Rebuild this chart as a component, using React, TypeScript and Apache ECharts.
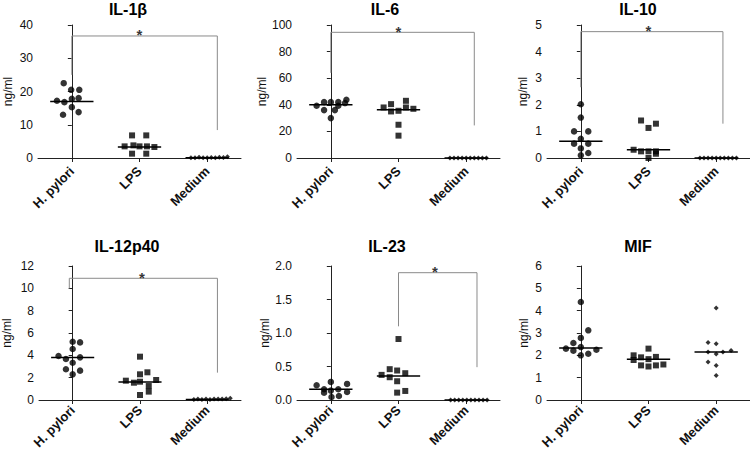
import React, { useEffect, useRef } from "react";
import * as echarts from "echarts";

const groups = ["H. pylori", "LPS", "Medium"];
const groupPositions = [0, 1, 2];
const panelTitles = ["IL-1β", "IL-6", "IL-10", "IL-12p40", "IL-23", "MIF"];
const yMax = [40, 100, 5, 12, 2, 6];
const yInterval = [10, 20, 1, 2, 0.5, 1];
const yDecimals = [0, 0, 0, 0, 1, 0];

// each point: [jitter offset from the group's centre, ng/ml]
const il1bHp = [[-0.12, 22.5], [-0.01, 20.5], [0.11, 20.5], [-0.22, 17.2], [-0.11, 16.8], [0, 17.8], [0.1, 18.0], [0, 15.3], [-0.13, 13.0], [0.1, 13.8]];
const il1bLps = [[-0.11, 6.8], [0.1, 6.8], [-0.22, 3.5], [-0.09, 3.8], [0, 3.5], [0.11, 3.5], [0.22, 3.3], [-0.11, 1.3], [0.1, 1.3]];
const il1bMed = [[-0.24, 0.1], [-0.18, 0.1], [-0.12, 0.2], [-0.06, 0.1], [0, 0.1], [0.06, 0.15], [0.12, 0.1], [0.18, 0.2], [0.24, 0.15], [0.3, 0.35]];
const il1bMedians = [17.0, 3.3, 0.1];

const il6Hp = [[-0.21, 39.3], [-0.1, 42], [0, 42], [0.11, 42], [0.23, 43.8], [-0.1, 36], [0.06, 36], [0.11, 39.3], [0.21, 41.3], [0, 30]];
const il6Lps = [[-0.22, 38], [-0.11, 40.5], [-0.11, 35], [0, 35.5], [0.11, 38], [0.11, 43], [0.22, 37], [0, 25], [0, 16.8]];
const il6Med = [[-0.24, 0], [-0.18, 0], [-0.12, 0], [-0.06, 0], [0, 0], [0.06, 0], [0.12, 0], [0.18, 0], [0.24, 0], [0.3, 0]];
const il6Medians = [40, 36.3, 0];

const il10Hp = [[0, 2.02], [0, 1.52], [-0.1, 1.0], [0.11, 1.0], [0, 0.72], [-0.1, 0.54], [0.11, 0.54], [0, 0.36], [0.11, 0.19], [0, 0.1]];
const il10Lps = [[-0.11, 1.41], [0, 1.13], [0.11, 1.29], [-0.22, 0.31], [-0.11, 0.25], [0, 0.25], [0.11, 0.25], [0.11, 0.16], [0, 0.0]];
const il10Med = [[-0.24, 0], [-0.18, 0], [-0.12, 0], [-0.06, 0], [0, 0], [0.06, 0], [0.12, 0], [0.18, 0], [0.24, 0], [0.3, 0]];
const il10Medians = [0.63, 0.31, 0];

const il12Hp = [[0, 5.22], [0.11, 5.16], [0, 4.57], [-0.21, 3.94], [-0.1, 3.67], [0.11, 3.82], [0, 3.34], [-0.1, 2.75], [0.11, 2.63], [0, 2.3]];
const il12Lps = [[0, 3.88], [0, 2.3], [0.11, 2.48], [-0.21, 1.73], [-0.09, 1.55], [0, 1.64], [0.24, 1.79], [0.13, 1.25], [0.13, 0.75], [0, 0.45]];
const il12Med = [[-0.2, 0.05], [-0.14, 0.08], [-0.08, 0.05], [-0.02, 0.1], [0.04, 0.05], [0.1, 0.08], [0.16, 0.1], [0.22, 0.08], [0.28, 0.12], [0.34, 0.15]];
const il12Medians = [3.8, 1.62, 0.05];

const il23Hp = [[-0.21, 0.22], [0, 0.27], [0.24, 0.24], [-0.1, 0.16], [0, 0.14], [0.11, 0.16], [0.24, 0.12], [-0.1, 0.11], [0.01, 0.045], [0.12, 0.06]];
const il23Lps = [[0, 0.91], [-0.13, 0.46], [-0.02, 0.44], [-0.25, 0.375], [0.1, 0.4], [-0.13, 0.34], [-0.02, 0.28], [-0.02, 0.11], [0.1, 0.135]];
const il23Med = [[-0.23, 0], [-0.17, 0], [-0.11, 0], [-0.05, 0], [0.01, 0], [0.07, 0], [0.13, 0], [0.19, 0], [0.25, 0], [0.31, 0]];
const il23Medians = [0.16, 0.36, 0];

const mifHp = [[0, 4.39], [0.11, 3.12], [0, 2.78], [-0.11, 2.55], [-0.22, 2.3], [-0.11, 2.21], [0, 2.37], [0.23, 2.25], [0, 2.0], [0.11, 2.07]];
const mifLps = [[0, 2.3], [-0.22, 2.0], [-0.11, 1.91], [0, 1.83], [0.11, 1.93], [-0.22, 1.79], [-0.11, 1.55], [0, 1.5], [0.11, 1.55], [0.22, 1.59]];
const mifMed = [[0, 4.12], [-0.12, 2.58], [0, 2.52], [-0.12, 2.15], [0, 2.06], [0.1, 2.15], [0.22, 2.22], [-0.12, 1.7], [0, 1.55], [0, 1.1]];
const mifMedians = [2.33, 1.83, 2.15];

// significance brackets: [left x, left leg bottom, bracket top, right x, right leg bottom, star x]
const il1bBracket = [0, 25, 36.7, 2.15, 8.4, 1.0];
const il6Bracket = [0, 64, 94.5, 2.12, 24.5, 1.0];
const il10Bracket = [0, 2.66, 4.75, 2.1, 1.29, 1.0];
const il12Bracket = [-0.05, 10.0, 10.9, 2.15, 2.45, 1.03];
const il23Bracket = [1.0, 1.1, 1.9, 2.16, 0.49, 1.54];

const panelPoints = [
  [il1bHp, il1bLps, il1bMed],
  [il6Hp, il6Lps, il6Med],
  [il10Hp, il10Lps, il10Med],
  [il12Hp, il12Lps, il12Med],
  [il23Hp, il23Lps, il23Med],
  [mifHp, mifLps, mifMed],
];
const panelMedians = [il1bMedians, il6Medians, il10Medians, il12Medians, il23Medians, mifMedians];
const panelBrackets = [il1bBracket, il6Bracket, il10Bracket, il12Bracket, il23Bracket, null];

const FONT = "Liberation Sans, Arial, Helvetica, sans-serif";
const gridLefts = [38, 297, 547, 38, 297, 547];
const gridTops = [25, 25, 25, 266, 266, 266];
const gridHeights = [133, 133, 133, 134, 134, 134];
const titleX = [128, 385, 638, 127, 387, 638];
const titleY = [9, 9, 9, 246, 246, 246];
const nameGaps = [24, 25, 18, 26, 25, 17];
const labelMargins = [11, 11, 11, 8, 8, 8];
const symbols = ["circle", "rect", "diamond"];
const symbolSizes = [6.5, 6, 5];
const MEDIAN_HALF = 0.32;

function buildOption() {
  const grid: any[] = [];
  const xAxis: any[] = [];
  const yAxis: any[] = [];
  const series: any[] = [];
  const graphic: any[] = [];

  for (let i = 0; i < 6; i++) {
    grid.push({ left: gridLefts[i], top: gridTops[i], width: 203, height: gridHeights[i] });
    graphic.push({
      type: "text",
      x: titleX[i],
      y: titleY[i],
      silent: true,
      style: {
        text: panelTitles[i],
        font: `bold 16px ${FONT}`,
        fill: "#000",
        align: "center",
        verticalAlign: "middle",
      },
    });
    yAxis.push({
      type: "value",
      gridIndex: i,
      min: 0,
      max: yMax[i],
      interval: yInterval[i],
      name: "ng/ml",
      nameLocation: "middle",
      nameRotate: 90,
      nameGap: nameGaps[i],
      nameTextStyle: { fontFamily: FONT, fontSize: 12, color: "#111" },
      axisLine: { show: true, lineStyle: { color: "#222", width: 1 } },
      axisTick: { show: true, length: 4, lineStyle: { color: "#222" } },
      splitLine: { show: false },
      axisLabel: {
        fontFamily: FONT,
        fontSize: 12,
        color: "#111",
        margin: 5,
        formatter: (v: number) => v.toFixed(yDecimals[i]),
      },
    });
    xAxis.push({
      type: "value",
      gridIndex: i,
      min: -0.5,
      max: 2.5,
      axisLine: { show: true, onZero: false, lineStyle: { color: "#222", width: 1 } },
      axisTick: { show: true, length: 4, customValues: groupPositions, lineStyle: { color: "#222" } },
      splitLine: { show: false },
      axisLabel: {
        show: true,
        customValues: groupPositions,
        formatter: (v: number) => groups[Math.round(v)] ?? "",
        rotate: 45,
        fontFamily: FONT,
        fontSize: 13,
        fontWeight: "bold",
        color: "#111",
        margin: labelMargins[i],
      },
    });
  }

  for (let i = 0; i < 6; i++) {
    panelPoints[i].forEach((pts, g) => {
      series.push({
        type: "scatter",
        xAxisIndex: i,
        yAxisIndex: i,
        symbol: symbols[g],
        symbolSize: symbolSizes[g],
        itemStyle: { color: "#000" },
        clip: false,
        z: 3,
        data: pts.map((p) => [g + p[0], p[1]]),
      });
      const m = panelMedians[i][g];
      series.push({
        type: "line",
        xAxisIndex: i,
        yAxisIndex: i,
        symbol: "none",
        lineStyle: { color: "#000", width: 1.5 },
        z: 4,
        data: [
          [g - MEDIAN_HALF, m],
          [g + MEDIAN_HALF, m],
        ],
      });
    });
    const b = panelBrackets[i];
    if (b) {
      series.push({
        type: "line",
        xAxisIndex: i,
        yAxisIndex: i,
        symbol: "none",
        lineStyle: { color: "#8a8a8a", width: 1 },
        z: 2,
        data: [
          [b[0], b[1]],
          [b[0], b[2]],
          [b[3], b[2]],
          [b[3], b[4]],
        ],
      });
      series.push({
        type: "scatter",
        xAxisIndex: i,
        yAxisIndex: i,
        symbolSize: 0,
        clip: false,
        z: 5,
        label: {
          show: true,
          position: "inside",
          offset: [0, -1],
          formatter: "*",
          fontFamily: FONT,
          fontSize: 15,
          fontWeight: "bold",
          color: "#000",
        },
        data: [[b[5], b[2]]],
      });
    }
  }

  return {
    animation: false,
    backgroundColor: "#fff",
    textStyle: { fontFamily: FONT },
    grid,
    xAxis,
    yAxis,
    series,
    graphic,
  };
}

export default function App() {
  const ref = useRef<HTMLDivElement>(null);
  useEffect(() => {
    if (!ref.current) return;
    const chart = echarts.init(ref.current, undefined, { renderer: "svg" });
    chart.setOption(buildOption() as any);
    return () => chart.dispose();
  }, []);
  return (
    <div
      ref={ref}
      style={{ position: "fixed", left: 0, top: 0, width: 750, height: 455, background: "#fff" }}
    />
  );
}
